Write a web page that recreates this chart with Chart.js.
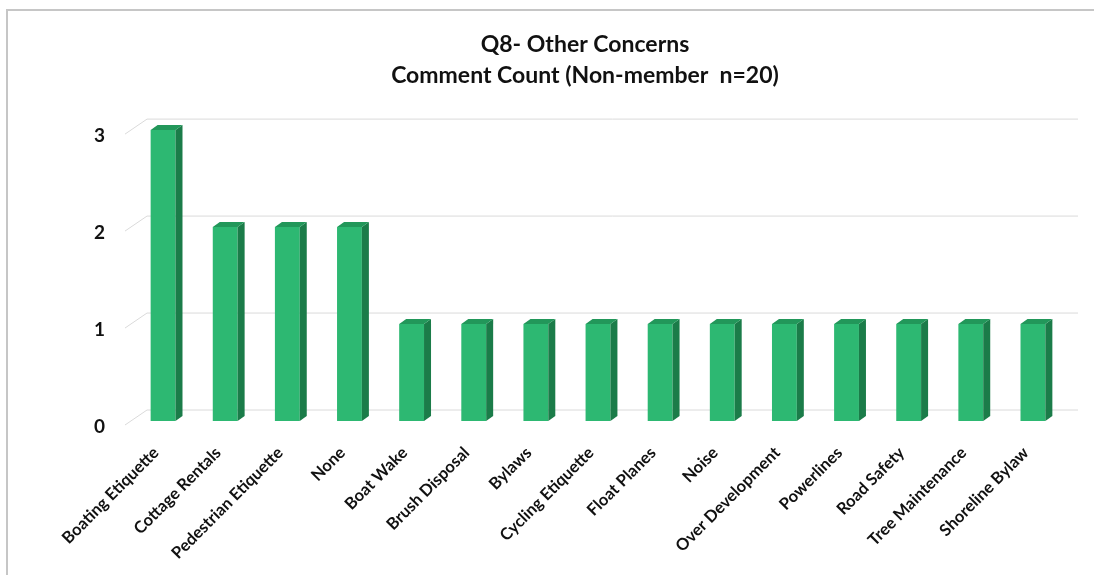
<!DOCTYPE html>
<html>
<head>
<meta charset="utf-8">
<title>Q8- Other Concerns</title>
<script src="https://cdn.jsdelivr.net/npm/chart.js@4/dist/chart.umd.min.js"></script>
<style>
    html, body { margin: 0; padding: 0; background: #fff; overflow: hidden; }
    body { width: 1094px; height: 575px; position: relative; }
    .frame {
        position: absolute; left: 6px; top: 9px; width: 1200px; height: 700px;
        border-left: 2px solid #c6c6c6; border-top: 2px solid #c6c6c6;
    }
    .chart-box { position: absolute; left: 10px; top: 12px; width: 1150px; height: 563px; }
</style>
</head>
<body>
<div class="frame"></div>
<div class="chart-box"><canvas id="concernsChart"></canvas></div>
<script>
    // Comment counts
    const CATEGORIES = [
        'Boating Etiquette', 'Cottage Rentals', 'Pedestrian Etiquette', 'None',
        'Boat Wake', 'Brush Disposal', 'Bylaws', 'Cycling Etiquette', 'Float Planes',
        'Noise', 'Over Development', 'Powerlines', 'Road Safety', 'Tree Maintenance',
        'Shoreline Bylaw'
    ];
    const COUNTS = [3, 2, 2, 2, 1, 1, 1, 1, 1, 1, 1, 1, 1, 1, 1];
    const Y_TICKS = [0, 1, 2, 3];
    const TITLE_LINES = ['Q8- Other Concerns', 'Comment Count (Non-member  n=20)'];

    const FRONT = '#2DB872';
    const SIDE = '#1B7C49';
    const TOP = '#22975A';
    const DEPTH_X = 7, DEPTH_Y = 5;

    // back wall gridlines with the little diagonal on the left (fake 3D floor)
    const backWall = {
        id: 'backWall',
        beforeDatasetsDraw(chart) {
            const { ctx, chartArea } = chart;
            const yScale = chart.scales.y;
            ctx.save();
            ctx.strokeStyle = '#dadada';
            ctx.lineWidth = 1;
            Y_TICKS.forEach(v => {
                const yy = yScale.getPixelForValue(v);
                ctx.beginPath();
                ctx.moveTo(chartArea.left - 7, yy + 4);
                ctx.lineTo(chartArea.left + 15, yy - 11);
                ctx.lineTo(chartArea.right + 14, yy - 11);
                ctx.stroke();
            });
            ctx.restore();
        }
    };

    // side + top faces for each bar
    const bar3d = {
        id: 'bar3d',
        afterDatasetsDraw(chart) {
            const { ctx } = chart;
            chart.getDatasetMeta(0).data.forEach(bar => {
                const left = bar.x - bar.width / 2;
                const right = bar.x + bar.width / 2;
                ctx.save();
                ctx.fillStyle = SIDE;
                ctx.beginPath();
                ctx.moveTo(right, bar.y);
                ctx.lineTo(right + DEPTH_X, bar.y - DEPTH_Y);
                ctx.lineTo(right + DEPTH_X, bar.base - DEPTH_Y);
                ctx.lineTo(right, bar.base);
                ctx.closePath();
                ctx.fill();
                ctx.fillStyle = TOP;
                ctx.beginPath();
                ctx.moveTo(left, bar.y);
                ctx.lineTo(left + DEPTH_X, bar.y - DEPTH_Y);
                ctx.lineTo(right + DEPTH_X, bar.y - DEPTH_Y);
                ctx.lineTo(right, bar.y);
                ctx.closePath();
                ctx.fill();
                ctx.restore();
            });
        }
    };

    new Chart(document.getElementById('concernsChart'), {
        type: 'bar',
        data: {
            labels: CATEGORIES,
            datasets: [{
                data: COUNTS,
                backgroundColor: FRONT,
                borderWidth: 0,
                categoryPercentage: 1,
                barPercentage: 0.4
            }]
        },
        options: {
            responsive: true,
            maintainAspectRatio: false,
            animation: false,
            layout: { padding: { left: 72, right: 72, top: 0, bottom: 0 } },
            plugins: {
                legend: { display: false },
                tooltip: { enabled: false },
                title: {
                    display: true,
                    text: TITLE_LINES,
                    color: '#111',
                    font: { family: 'Lato', size: 23, weight: 'bold', lineHeight: 1.35 },
                    padding: { top: 17, bottom: 39 }
                }
            },
            scales: {
                x: {
                    grid: { display: false, drawTicks: false },
                    border: { display: false },
                    ticks: {
                        color: '#111',
                        font: { family: 'Lato', size: 16.5, weight: 'bold' },
                        minRotation: 45,
                        maxRotation: 45,
                        autoSkip: false,
                        padding: 22,
                        labelOffset: -7
                    },
                    afterFit(scale) {
                        scale.height = 154;
                        scale.paddingLeft = 0;
                        scale.paddingRight = 0;
                    }
                },
                y: {
                    min: 0,
                    max: 3,
                    grid: { display: false, drawTicks: false },
                    border: { display: false },
                    afterBuildTicks(scale) {
                        scale.ticks = Y_TICKS.map(v => ({ value: v }));
                    },
                    ticks: {
                        color: '#111',
                        font: { family: 'Lato', size: 19, weight: 'bold' },
                        padding: 27,
                        labelOffset: 6
                    },
                    afterFit(scale) {
                        scale.width = 50;
                    }
                },
                // empty spacer on the right so the title sits where the original does
                spacer: {
                    type: 'linear',
                    position: 'right',
                    grid: { display: false, drawTicks: false },
                    border: { display: false },
                    ticks: { display: false },
                    afterFit(scale) {
                        scale.width = 24;
                    }
                }
            }
        },
        plugins: [backWall, bar3d]
    });
</script>
</body>
</html>
